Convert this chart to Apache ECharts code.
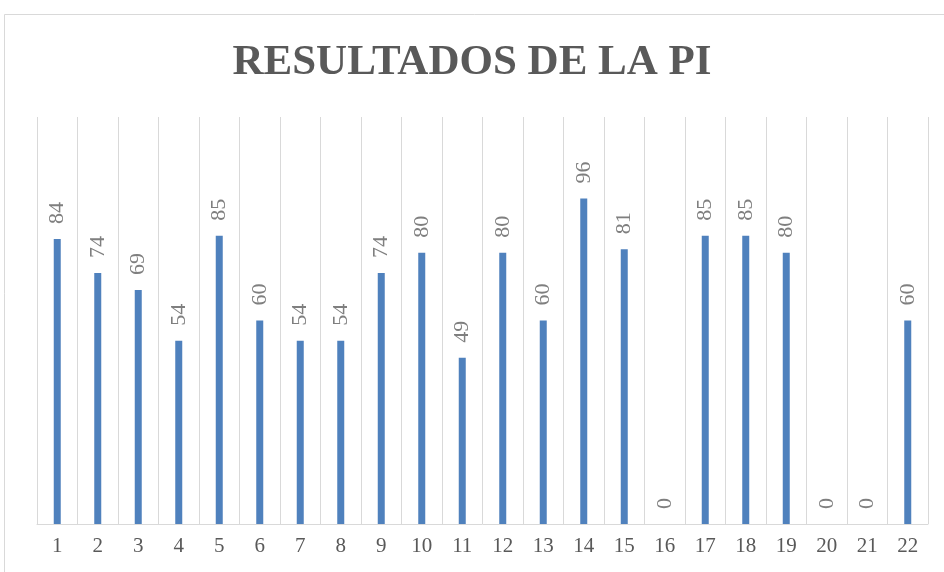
<!DOCTYPE html>
<html><head><meta charset="utf-8">
<script src="https://cdn.jsdelivr.net/npm/echarts@6/dist/echarts.min.js"></script>
<style>html,body{margin:0;padding:0;background:#fff}#c{width:944px;height:572px}</style>
</head><body><div id="c"></div>
<script>
const titleText = 'RESULTADOS DE LA PI';
const categories = ['1','2','3','4','5','6','7','8','9','10','11','12','13','14','15','16','17','18','19','20','21','22'];
const values = [84,74,69,54,85,60,54,54,74,80,49,80,60,96,81,0,85,85,80,0,0,60];

const chart = echarts.init(document.getElementById('c'), null, {renderer:'canvas'});
chart.setOption({
  animation:false,
  backgroundColor:'#fff',
  graphic:[{type:'rect',shape:{x:4.5,y:14.5,width:1200,height:1200},style:{fill:'none',stroke:'#d9d9d9',lineWidth:1}}],
  title:{text:titleText,left:'center',top:36,itemGap:0,
    textStyle:{fontFamily:'"Liberation Serif","DejaVu Serif",serif',fontWeight:'bold',fontSize:43,color:'#595959'}},
  grid:{left:37,right:16,top:117,bottom:48,containLabel:false},
  xAxis:{type:'category',data:categories,boundaryGap:true,
    axisLine:{lineStyle:{color:'#d9d9d9',width:1}},
    axisTick:{show:false},
    splitLine:{show:true,lineStyle:{color:'#d9d9d9',width:1}},
    axisLabel:{color:'#595959',fontFamily:'"Liberation Serif",serif',fontSize:21,margin:12}},
  yAxis:{type:'value',min:0,max:120,show:false,splitLine:{show:false}},
  series:[{type:'bar',data:values,barWidth:7,itemStyle:{color:'#4f81bd'},
    label:{show:true,position:'top',rotate:90,align:'left',verticalAlign:'middle',distance:15,
      color:'#7f7f7f',fontFamily:'"Liberation Serif",serif',fontSize:22}}]
});
</script></body></html>
